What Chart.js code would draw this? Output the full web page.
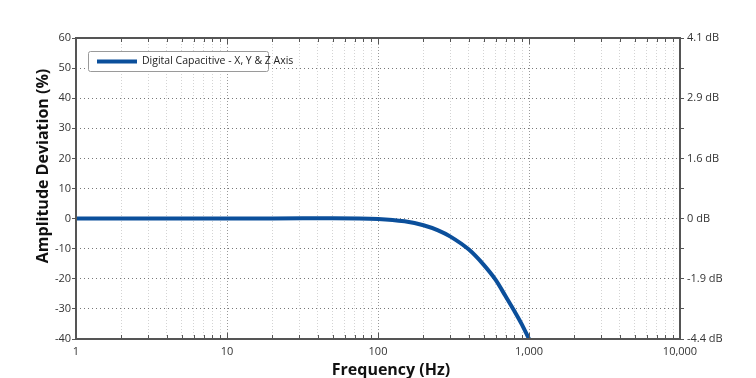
<!DOCTYPE html>
<html><head><meta charset="utf-8">
<script src="https://cdn.jsdelivr.net/npm/chart.js@4/dist/chart.umd.min.js"></script>
<style>html,body{margin:0;padding:0;background:#fff}#wrap{width:756px;height:378px;position:relative}</style>
</head><body><div id="wrap"><canvas id="c" width="756" height="378"></canvas></div>
<script>
const seriesLabel = 'Digital Capacitive - X, Y & Z Axis';
const frequencyHz = [1, 2, 5, 10, 20, 50, 100, 150, 200, 250, 300, 400, 500, 600, 700, 800, 900, 1000];
const amplitudePct = [0, 0, 0, 0, 0, 0.15, -0.1, -0.9, -2.2, -3.9, -5.9, -10.3, -15.3, -20.3, -25.8, -30.7, -35.3, -40];
const xMajorValues = [1, 10, 100, 1000, 10000];
const xTickLabels = ['1', '10', '100', '1,000', '10,000'];
const rightTickValues = [60, 40, 20, 0, -20, -40];
const rightTickLabels = ['4.1 dB', '2.9 dB', '1.6 dB', '0 dB', '-1.9 dB', '-4.4 dB'];
const xTitle = 'Frequency (Hz)';
const yTitle = 'Amplitude Deviation (%)';

const LINE = '#0b4f9b';
const FONT = "'Open Sans', 'Noto Sans', sans-serif";

// log grid positions (1..9 per decade)
const xGridValues = [];
for (let d = 0; d < xMajorValues.length - 1; d++) {
  for (let m = 1; m <= 9; m++) xGridValues.push(m * xMajorValues[d]);
}
xGridValues.push(xMajorValues[xMajorValues.length - 1]);

const framePlugin = {
  id: 'frame',
  afterDraw(chart) {
    const {ctx, chartArea: a, scales} = chart;
    const xs = scales.x;
    ctx.save();
    ctx.strokeStyle = '#555';
    ctx.lineWidth = 1;
    xGridValues.forEach(v => {
      const px = Math.round(xs.getPixelForValue(v)) + 0.5;
      const len = xMajorValues.includes(v) ? 6 : 4;
      ctx.beginPath();
      ctx.moveTo(px, a.bottom); ctx.lineTo(px, a.bottom - len);
      ctx.moveTo(px, a.top); ctx.lineTo(px, a.top + len);
      ctx.stroke();
    });
    ctx.strokeStyle = '#555';
    ctx.lineWidth = 2;
    ctx.strokeRect(a.left, a.top, a.right - a.left, a.bottom - a.top);

    // legend
    const lx = 88, ly = 51, lw = 180, lh = 20;
    ctx.fillStyle = '#fff';
    ctx.strokeStyle = '#9a9a9a';
    ctx.lineWidth = 1;
    ctx.beginPath();
    if (ctx.roundRect) ctx.roundRect(lx + 0.5, ly + 0.5, lw, lh, 2); else ctx.rect(lx + 0.5, ly + 0.5, lw, lh);
    ctx.fill(); ctx.stroke();
    ctx.strokeStyle = LINE; ctx.lineWidth = 4;
    ctx.beginPath(); ctx.moveTo(97, 61.5); ctx.lineTo(137, 61.5); ctx.stroke();
    ctx.fillStyle = '#222';
    ctx.font = '10.5px ' + FONT;
    ctx.textBaseline = 'middle'; ctx.textAlign = 'left';
    ctx.fillText(chart.data.datasets[0].label, 142, 61.5);

    // titles
    ctx.fillStyle = '#111';
    ctx.font = 'bold 16px ' + FONT;
    ctx.textAlign = 'center'; ctx.textBaseline = 'middle';
    ctx.fillText(xTitle, 391, 370);
    ctx.translate(43, 166);
    ctx.rotate(-Math.PI / 2);
    ctx.fillText(yTitle, 0, 0);
    ctx.restore();
  }
};

new Chart(document.getElementById('c'), {
  type: 'line',
  data: {
    datasets: [{
      label: seriesLabel,
      data: frequencyHz.map((f, i) => ({x: f, y: amplitudePct[i]})),
      borderColor: LINE,
      backgroundColor: LINE,
      borderWidth: 4,
      pointRadius: 0,
      cubicInterpolationMode: 'monotone',
      clip: 2
    }]
  },
  options: {
    responsive: false,
    animation: false,
    devicePixelRatio: 1,
    layout: {padding: {top: 38, left: 0, right: 0, bottom: 0}},
    plugins: {legend: {display: false}, tooltip: {enabled: false}},
    scales: {
      x: {
        type: 'logarithmic',
        min: 1, max: 10000,
        afterBuildTicks: s => { s.ticks = xGridValues.map(v => ({value: v, major: xMajorValues.includes(v)})); },
        afterFit: s => { s.height = 39; },
        ticks: {
          autoSkip: false, maxRotation: 0, padding: 6,
          color: '#333', font: {family: FONT, size: 11},
          callback: v => { const i = xMajorValues.indexOf(v); return i >= 0 ? xTickLabels[i] : ''; }
        },
        grid: {
          drawTicks: false,
          color: c => (c.tick && xMajorValues.includes(c.tick.value)) ? '#9a9a9a' : '#d4d4d4',
          lineWidth: 1
        },
        border: {display: false, dash: [1, 2]}
      },
      y: {
        position: 'left',
        min: -40, max: 60,
        afterFit: s => { s.width = 76; },
        ticks: {stepSize: 10, padding: 1, color: '#333', font: {family: FONT, size: 11}},
        grid: {color: '#777', lineWidth: 1, tickLength: 4, tickColor: '#555', tickBorderDash: []},
        border: {display: false, dash: [1, 3]}
      },
      y2: {
        position: 'right',
        min: -40, max: 60,
        afterFit: s => { s.width = 76; },
        ticks: {
          stepSize: 10, padding: 3, color: '#333', font: {family: FONT, size: 11},
          callback: v => { const i = rightTickValues.indexOf(v); return i >= 0 ? rightTickLabels[i] : ''; }
        },
        grid: {drawOnChartArea: false, tickLength: 4, tickColor: '#555'},
        border: {display: false}
      }
    }
  },
  plugins: [framePlugin]
});
</script>
</body></html>
